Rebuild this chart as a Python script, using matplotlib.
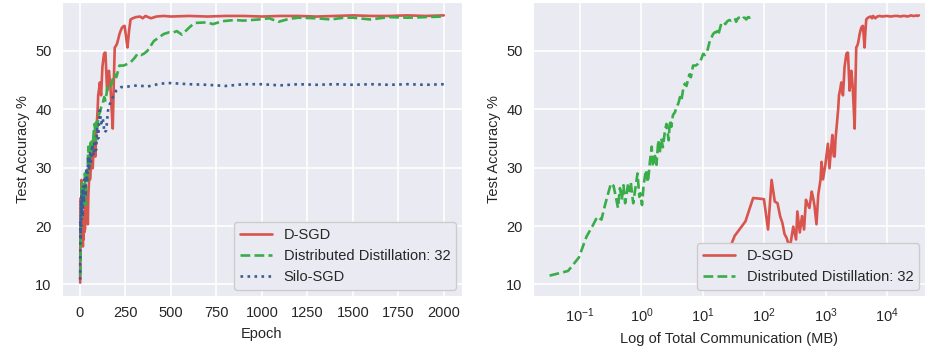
import numpy as np
import matplotlib
matplotlib.use('Agg')
import matplotlib.pyplot as plt
import seaborn as sns

# D-SGD: test accuracy per epoch
dsgd_epoch = [1, 2, 3, 4, 5, 6, 7, 8, 9, 10, 11, 12, 13, 14, 15, 16, 18, 20, 21, 23,
              25, 27, 29, 30, 33, 36, 38, 40, 43, 46, 50, 52, 55, 60, 66, 70, 74, 78, 82, 85,
              88, 93, 97, 100, 105, 109, 116, 120, 123, 128, 132, 136, 140, 145, 149, 154, 159, 164, 168, 174,
              180, 186, 191, 196, 203, 210, 217, 224, 231, 238, 245, 253, 261, 270, 278, 290, 307, 330, 345, 360,
              390, 420, 460, 500, 600, 700, 800, 900, 1000, 1100, 1200, 1300, 1400, 1500, 1600, 1700, 1800, 1900, 2000]
dsgd_acc = [10.3, 18.3, 20.8, 24.8, 24.7, 24.6, 19.4, 27.9, 24.2, 23.9, 21.7, 20.5, 18.6, 18.0, 17.0, 16.5, 19.9, 17.7, 22.5, 18.9,
            21.7, 19.4, 24.5, 24.0, 23.1, 25.9, 24.8, 23.4, 20.3, 25.4, 27.9, 31.0, 28.0, 30.5, 34.1, 29.9, 33.0, 35.6, 32.0, 31.9,
            35.0, 37.8, 40.0, 42.4, 43.5, 44.6, 42.4, 45.0, 47.2, 48.5, 49.5, 49.7, 49.7, 46.0, 43.2, 45.0, 46.6, 45.0, 43.5, 40.0,
            36.7, 45.0, 50.6, 50.8, 51.2, 52.0, 52.9, 53.5, 54.0, 54.2, 54.3, 52.5, 50.6, 53.5, 55.4, 55.6, 55.8, 55.9, 55.6, 56.0,
            55.6, 55.9, 56.0, 55.9, 56.0, 55.9, 56.0, 56.0, 55.9, 56.0, 56.0, 55.9, 56.0, 56.1, 56.0, 56.0, 56.1, 56.0, 56.1]

# Distributed Distillation: 32
dd_epoch = [1, 2, 3, 4, 5, 6, 7, 8, 9, 10, 11, 12, 13, 14, 15, 16, 17, 18, 19, 20,
            21, 23, 25, 27, 29, 30, 32, 34, 37, 40, 43, 46, 48, 52, 55, 59, 62, 66, 70, 75,
            80, 87, 91, 96, 102, 110, 117, 125, 133, 140, 150, 159, 170, 180, 190, 200, 217, 240, 262, 279,
            300, 316, 335, 350, 370, 406, 442, 460, 490, 515, 532, 560, 600, 629, 700, 730, 783, 850, 900, 983,
            1040, 1091, 1150, 1200, 1300, 1379, 1450, 1500, 1595, 1700, 1800, 1900, 2000]
dd_acc = [11.5, 12.3, 14.6, 18.2, 20.0, 21.6, 21.1, 23.6, 25.6, 27.3, 26.9, 25.0, 23.1, 26.5, 24.5, 27.0, 23.9, 25.5, 27.3, 26.0,
          27.5, 23.9, 26.5, 29.0, 25.0, 25.6, 23.6, 27.0, 29.6, 27.5, 31.0, 33.6, 30.2, 32.0, 30.5, 34.7, 32.4, 35.0, 33.5, 36.0,
          37.5, 34.7, 38.1, 37.0, 39.0, 39.5, 40.4, 41.0, 42.1, 41.5, 43.5, 44.4, 44.0, 45.2, 46.0, 45.5, 47.5, 47.5, 47.8, 48.1,
          48.8, 49.5, 49.3, 49.5, 50.0, 51.7, 52.5, 52.9, 53.2, 53.2, 53.4, 52.8, 54.0, 54.8, 54.9, 54.6, 55.1, 55.3, 55.2, 55.4,
          55.6, 55.0, 55.5, 55.7, 55.6, 55.4, 55.7, 55.7, 55.4, 55.8, 55.7, 55.8, 55.9]

# Silo-SGD
silo_epoch = [1, 2, 3, 4, 5, 6, 8, 10, 12, 15, 18, 22, 27, 30, 35, 40, 45, 50, 55, 60,
              68, 75, 81, 88, 95, 100, 108, 117, 125, 135, 144, 154, 165, 181, 199, 226, 262, 316, 370, 442,
              496, 600, 700, 800, 900, 1000, 1100, 1200, 1300, 1400, 1500, 1600, 1700, 1800, 1900, 2000]
silo_acc = [10.8, 16.5, 21.0, 18.0, 24.5, 20.0, 25.5, 22.0, 26.0, 21.5, 27.0, 24.0, 28.5, 25.0, 30.0, 27.5, 31.9, 29.5, 32.5, 31.0,
            34.0, 32.0, 34.7, 33.0, 37.0, 35.0, 39.8, 37.6, 38.5, 36.0, 36.4, 39.8, 41.0, 42.1, 43.2, 43.8, 43.9, 44.1, 43.9, 44.4,
            44.5, 44.3, 44.2, 44.0, 44.3, 44.3, 44.1, 44.3, 44.2, 44.3, 44.2, 44.3, 44.2, 44.3, 44.2, 44.3]

# communication cost per epoch (MB)
mb_per_epoch_dsgd = 16.5
mb_per_epoch_dd = 0.032

sns.set_style('darkgrid')
plt.rcParams['font.family'] = ['Liberation Sans', 'DejaVu Sans']

red = sns.xkcd_rgb['pale red']
green = sns.xkcd_rgb['medium green']
blue = sns.xkcd_rgb['denim blue']
fs = 10.5

W, H = 927, 354
fig = plt.figure(figsize=(W / 100, H / 100), dpi=100)
ax1 = fig.add_axes([62 / W, 58 / H, 400 / W, 294 / H])
ax2 = fig.add_axes([533 / W, 58 / H, 392 / W, 294 / H])

ax1.plot(dsgd_epoch, dsgd_acc, color=red, lw=1.9, label='D-SGD')
ax1.plot(dd_epoch, dd_acc, color=green, lw=1.9, ls='--', label='Distributed Distillation: 32')
ax1.plot(silo_epoch, silo_acc, color=blue, lw=1.9, ls=':', label='Silo-SGD')
ax1.set_xlabel('Epoch', fontsize=fs, labelpad=5)
ax1.set_ylabel('Test Accuracy %', fontsize=fs)
ax1.set_xticks([0, 250, 500, 750, 1000, 1250, 1500, 1750, 2000])

comm_dsgd = np.array(dsgd_epoch) * mb_per_epoch_dsgd
comm_dd = np.array(dd_epoch) * mb_per_epoch_dd
ax2.plot(comm_dsgd, dsgd_acc, color=red, lw=1.9, label='D-SGD')
ax2.plot(comm_dd, dd_acc, color=green, lw=1.9, ls='--', label='Distributed Distillation: 32')
ax2.set_xscale('log')
ax2.set_xlim(0.0172, 41500)
ax2.set_xlabel('Log of Total Communication (MB)', fontsize=fs, labelpad=5)
ax2.set_ylabel('Test Accuracy %', fontsize=fs)

for ax in (ax1, ax2):
    ax.tick_params(labelsize=fs, pad=4)
    ax.grid(True, which='major', color='white', lw=1.2)
    ax.grid(False, which='minor')
    ax.legend(loc='lower right', fontsize=fs, frameon=True, facecolor='#EAEAF2',
              edgecolor='#CCCCCC', framealpha=1, borderaxespad=0.4, handlelength=2.2)

fig.savefig('out.png', dpi=100)
